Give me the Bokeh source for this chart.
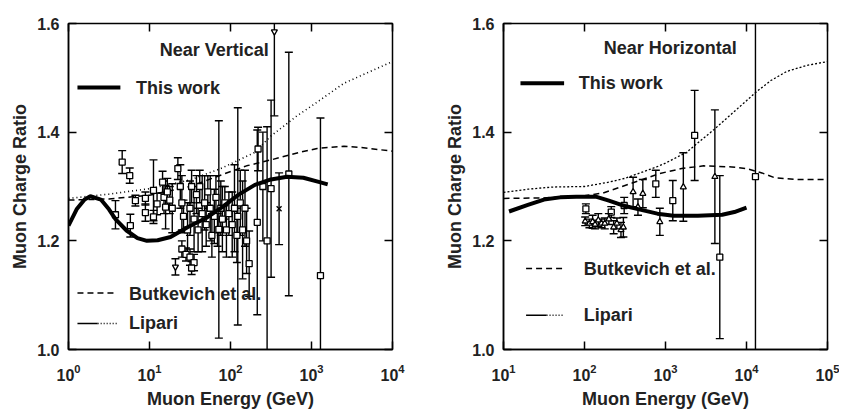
import numpy as np
from bokeh.plotting import figure
from bokeh.layouts import row
from bokeh.models import (FixedTicker, LogTickFormatter, PrintfTickFormatter,
                          LinearAxis, Label)
from bokeh.embed import file_html
from bokeh.resources import INLINE

FONT = "Liberation Sans"
TXT = "#222222"

# ---------------- Near Vertical (left) ----------------
v_this_E = [1.0, 1.26, 1.58, 1.86, 2.51, 3.16, 3.8, 5.2, 7.1, 9.3, 12.6, 18.2, 29.5, 50, 79, 126, 200, 316, 500, 794, 1259, 1585]
v_this_R = [1.228, 1.258, 1.276, 1.282, 1.276, 1.258, 1.240, 1.219, 1.205, 1.200, 1.201, 1.207, 1.225, 1.242, 1.262, 1.285, 1.303, 1.313, 1.318, 1.316, 1.308, 1.304]

v_butk_E = [1.0, 3.16, 10, 31.6, 79.4, 158, 316, 724, 1175, 2512, 3981, 10000]
v_butk_R = [1.275, 1.277, 1.284, 1.300, 1.322, 1.338, 1.349, 1.363, 1.370, 1.374, 1.372, 1.365]

v_lip_E = [1.0, 3.16, 10, 31.6, 75.9, 195, 316, 661, 1000, 2512, 5012, 10000]
v_lip_R = [1.278, 1.286, 1.296, 1.312, 1.333, 1.362, 1.393, 1.430, 1.448, 1.490, 1.510, 1.530]

v_sq_E = [3.8, 4.6, 5.7, 5.8, 6.7, 8.9, 8.9, 11.2, 11.2, 12.4, 14.5, 15.1, 15.8, 16.6, 17.8,
          19.1, 22.4, 24.0, 25.1, 26.3, 25.1, 28.2, 31.6, 35.5, 33.1, 29.5, 31.6, 33.1, 35.5,
          38.0, 39.8, 41.7, 44.7, 47.9, 50.1, 52.5, 56.2, 58.9, 63.1, 66.1, 69.2, 71.8, 75.9,
          79.4, 85.1, 89.1, 95.5, 105, 112, 120, 123, 132, 141, 151, 158, 170, 214, 219, 251,
          283, 317, 525, 1290]
v_sq_R = [1.248, 1.345, 1.320, 1.228, 1.274, 1.278, 1.252, 1.293, 1.244, 1.268, 1.308, 1.280,
          1.262, 1.290, 1.275, 1.260, 1.333, 1.300, 1.270, 1.245, 1.185, 1.175, 1.170, 1.160,
          1.150, 1.220, 1.260, 1.300, 1.240, 1.285, 1.220, 1.300, 1.250, 1.270, 1.230, 1.290,
          1.260, 1.210, 1.245, 1.280, 1.220, 1.221, 1.260, 1.240, 1.270, 1.220, 1.250, 1.230,
          1.260, 1.210, 1.245, 1.270, 1.220, 1.260, 1.200, 1.158, 1.234, 1.369, 1.300, 1.200,
          1.296, 1.323, 1.136]
v_sq_err = [0.026, 0.021, 0.014, 0.021, 0.010, 0.012, 0.016, 0.056, 0.012, 0.020, 0.020, 0.030,
            0.040, 0.025, 0.025, 0.045, 0.020, 0.040, 0.050, 0.030, 0.015, 0.012, 0.015, 0.015,
            0.012, 0.050, 0.050, 0.030, 0.060, 0.035, 0.040, 0.030, 0.070, 0.050, 0.040, 0.030,
            0.060, 0.040, 0.050, 0.040, 0.030, 0.200, 0.050, 0.060, 0.030, 0.050, 0.040, 0.060,
            0.080, 0.050, 0.200, 0.060, 0.090, 0.070, 0.060, 0.060, 0.170, 0.040, 0.100, 0.210,
            0.163, 0.224, 0.290]
v_tri_E = [20.9, 348]
v_tri_R = [1.152, 1.585]
v_tri_err = [0.015, 0.155]
v_x_E = [398]
v_x_R = [1.259]
v_x_err = [0.066]

# ---------------- Near Horizontal (right) ----------------
h_this_E = [11.7, 20, 31.6, 50, 79, 141, 200, 316, 501, 794, 1259, 2512, 5012, 7079, 10000]
h_this_R = [1.254, 1.266, 1.276, 1.280, 1.281, 1.281, 1.274, 1.264, 1.257, 1.250, 1.246, 1.246, 1.248, 1.253, 1.261]

h_butk_E = [10, 31.6, 100, 170, 363, 851, 1585, 2951, 6607, 10000, 15488, 22387, 39811, 100000]
h_butk_R = [1.278, 1.279, 1.283, 1.288, 1.305, 1.324, 1.333, 1.338, 1.336, 1.333, 1.325, 1.316, 1.313, 1.313]

h_lip_E = [10, 20, 39.8, 100, 200, 316, 776, 1000, 1820, 3981, 10000, 13183, 19953, 31623, 56234, 100000]
h_lip_R = [1.289, 1.295, 1.299, 1.300, 1.308, 1.315, 1.336, 1.343, 1.363, 1.405, 1.458, 1.474, 1.495, 1.512, 1.523, 1.530]

h_sq_E = [104, 214, 309, 759, 1230, 2290, 4680, 12900]
h_sq_R = [1.259, 1.253, 1.265, 1.305, 1.274, 1.394, 1.170, 1.318]
h_sq_err = [0.009, 0.010, 0.015, 0.025, 0.037, 0.083, 0.150, 0.600]

h_tri_E = [102, 115, 126, 135, 148, 162, 178, 200, 229, 251, 282, 302, 398, 457, 525, 851, 1660, 4070]
h_tri_R = [1.236, 1.232, 1.235, 1.230, 1.238, 1.232, 1.232, 1.240, 1.225, 1.232, 1.220, 1.225,
           1.290, 1.262, 1.287, 1.235, 1.299, 1.318]
h_tri_err = [0.008, 0.008, 0.012, 0.008, 0.012, 0.008, 0.010, 0.010, 0.012, 0.010, 0.014, 0.018,
             0.027, 0.015, 0.026, 0.025, 0.063, 0.123]

y_ticks = [1.0, 1.2, 1.4, 1.6]
v_x_ticks = [1, 10, 100, 1000, 10000]
h_x_ticks = [10, 100, 1000, 10000, 100000]


def style_axis(ax):
    ax.axis_line_color = "black"
    ax.axis_line_width = 1.5
    ax.major_tick_line_color = "black"
    ax.major_tick_line_width = 1.5
    ax.major_tick_in = 8
    ax.major_tick_out = 0
    ax.minor_tick_line_color = None
    ax.major_label_text_font = FONT
    ax.major_label_text_font_style = "bold"
    ax.major_label_text_color = TXT
    ax.major_label_text_font_size = "16px"
    ax.axis_label_text_font = FONT
    ax.axis_label_text_font_style = "bold"
    ax.axis_label_text_font_size = "18px"
    ax.axis_label_text_color = TXT


def mirror_axis(ticks):
    ax = LinearAxis(ticker=FixedTicker(ticks=ticks))
    ax.axis_line_color = None
    ax.major_tick_line_color = "black"
    ax.major_tick_line_width = 1.5
    ax.major_tick_in = 8
    ax.major_tick_out = 0
    ax.minor_tick_line_color = None
    ax.major_label_text_color = None
    ax.major_label_text_font_size = "1px"
    ax.major_label_standoff = 0
    return ax


def make_fig(xr, xticks, border_left, border_right):
    p = figure(x_axis_type="log", x_range=xr, y_range=(1.0, 1.6),
               frame_width=324, frame_height=326,
               min_border_left=border_left, min_border_right=border_right,
               min_border_top=23, min_border_bottom=61,
               output_backend="svg", toolbar_location=None)
    p.grid.visible = False
    p.outline_line_color = "black"
    p.outline_line_width = 1.5
    p.xaxis.ticker = FixedTicker(ticks=xticks)
    p.xaxis.formatter = LogTickFormatter()
    p.yaxis.ticker = FixedTicker(ticks=y_ticks)
    p.yaxis.formatter = PrintfTickFormatter(format="%.1f")
    for ax in p.xaxis + p.yaxis:
        style_axis(ax)
    p.xaxis.major_label_standoff = 14
    p.xaxis.axis_label_standoff = 5
    p.yaxis.major_label_standoff = 9
    p.yaxis.axis_label_standoff = 4
    p.xaxis.axis_label = "Muon Energy (GeV)"
    p.yaxis.axis_label = "Muon Charge Ratio"
    p.add_layout(mirror_axis(xticks), "above")
    p.add_layout(mirror_axis(y_ticks), "right")
    return p


def err_points(p, E, R, err, marker):
    E = np.asarray(E, float)
    R = np.asarray(R, float)
    err = np.asarray(err, float)
    lo, hi = R - err, R + err
    p.segment(x0=E, y0=lo, x1=E, y1=hi, line_color="black", line_width=1.4)
    p.scatter(x=np.concatenate([E, E]), y=np.concatenate([lo, hi]), marker="dash",
              size=8, line_color="black", line_width=1.4)
    p.scatter(x=E, y=R, marker=marker, size=6 if marker != "x" else 7,
              fill_color="white", line_color="black", line_width=1.3)


def legend_text(p, x, y, t, align="left"):
    p.add_layout(Label(x=x, y=y, text=t, text_font=FONT, text_font_style="bold",
                       text_font_size="18px", text_color=TXT,
                       text_baseline="middle", text_align=align))


# ---------- left panel ----------
p1 = make_fig((1, 10000), v_x_ticks, 68, 50)
p1.line(v_butk_E, v_butk_R, line_color="black", line_width=1.5, line_dash="6 4")
p1.line(v_lip_E, v_lip_R, line_color="black", line_width=1.6, line_dash="1 3")
err_points(p1, v_sq_E, v_sq_R, v_sq_err, "square")
err_points(p1, v_tri_E, v_tri_R, v_tri_err, "inverted_triangle")
err_points(p1, v_x_E, v_x_R, v_x_err, "x")
p1.line(v_this_E, v_this_R, line_color="black", line_width=4)

legend_text(p1, 63, 1.552, "Near Vertical", "center")
p1.segment(x0=[1.29], y0=[1.482], x1=[4.37], y1=[1.482], line_color="black", line_width=4)
legend_text(p1, 6.8, 1.482, "This work")
p1.segment(x0=[1.29], y0=[1.104], x1=[4.0], y1=[1.104], line_color="black", line_width=1.5, line_dash="6 4")
legend_text(p1, 5.6, 1.103, "Butkevich et al.")
p1.segment(x0=[1.29], y0=[1.048], x1=[2.29], y1=[1.048], line_color="black", line_width=1.5)
p1.segment(x0=[2.29], y0=[1.048], x1=[4.0], y1=[1.048], line_color="black", line_width=1.5, line_dash="1 2")
legend_text(p1, 5.6, 1.048, "Lipari")

# ---------- right panel ----------
p2 = make_fig((10, 100000), h_x_ticks, 60, 12)
p2.line(h_butk_E, h_butk_R, line_color="black", line_width=1.5, line_dash="6 4")
p2.line(h_lip_E, h_lip_R, line_color="black", line_width=1.3, line_dash="2 2")
err_points(p2, h_sq_E, h_sq_R, h_sq_err, "square")
err_points(p2, h_tri_E, h_tri_R, h_tri_err, "triangle")
p2.line(h_this_E, h_this_R, line_color="black", line_width=4)

legend_text(p2, 1148, 1.554, "Near Horizontal", "center")
p2.segment(x0=[16.2], y0=[1.49], x1=[56], y1=[1.49], line_color="black", line_width=4)
legend_text(p2, 85, 1.49, "This work")
p2.segment(x0=[19], y0=[1.149], x1=[56], y1=[1.149], line_color="black", line_width=1.5, line_dash="6 4")
legend_text(p2, 98, 1.149, "Butkevich et al.")
p2.segment(x0=[19], y0=[1.063], x1=[34], y1=[1.063], line_color="black", line_width=1.5)
p2.segment(x0=[34], y0=[1.063], x1=[56], y1=[1.063], line_color="black", line_width=1.5, line_dash="1 2")
legend_text(p2, 98, 1.063, "Lipari")

layout = row(p1, p2)
open("out.html", "w").write(file_html(layout, INLINE))
